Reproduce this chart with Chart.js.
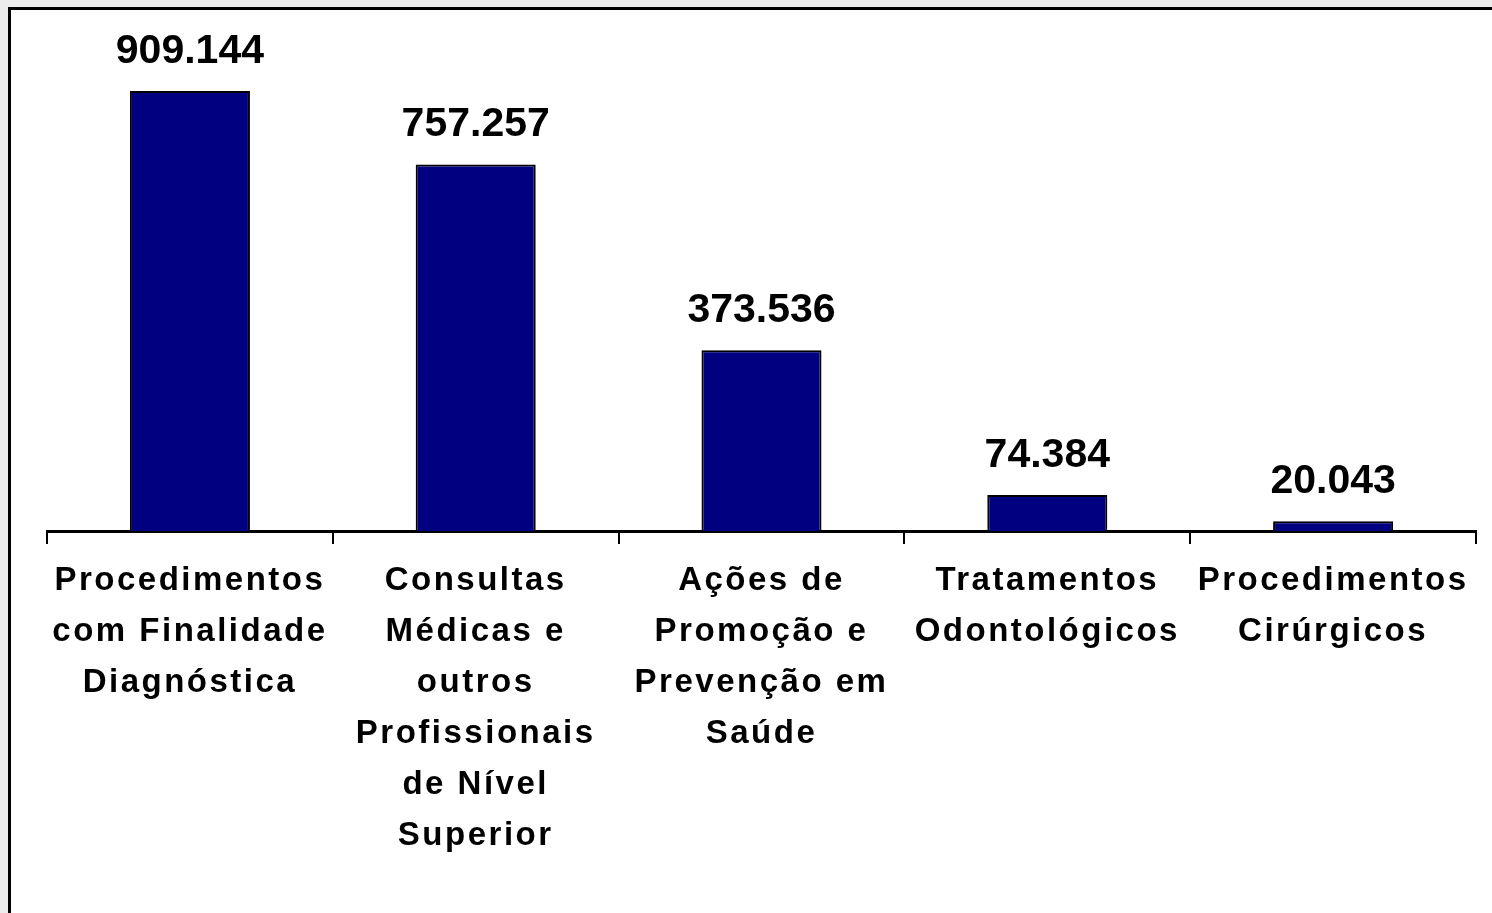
<!DOCTYPE html>
<html>
<head>
<meta charset="utf-8">
<script src="https://cdn.jsdelivr.net/npm/chart.js@4"></script>
<style>
    html, body { margin: 0; padding: 0; background: #ececec; overflow: hidden; }
    #frame {
        position: absolute; left: 8px; top: 7px; width: 1500px; height: 920px;
        background: #fff; border-left: 3px solid #000; border-top: 3px solid #000;
    }
    #wrap { position: absolute; left: 0; top: 0; width: 1492px; height: 913px; }
</style>
</head>
<body>
<div id="frame"></div>
<div id="wrap"><canvas id="procChart"></canvas></div>
<script>
// Categories (multi-line labels) and values
const categories = [
    ['Procedimentos', 'com Finalidade', 'Diagnóstica'],
    ['Consultas', 'Médicas e', 'outros', 'Profissionais', 'de Nível', 'Superior'],
    ['Ações de', 'Promoção e', 'Prevenção em', 'Saúde'],
    ['Tratamentos', 'Odontológicos'],
    ['Procedimentos', 'Cirúrgicos']
];
const values = [909144, 757257, 373536, 74384, 20043];
const valueLabels = ['909.144', '757.257', '373.536', '74.384', '20.043'];

const FONT = '"Liberation Sans", Arial, sans-serif';

// Wider letter spacing for the axis labels, like the original
const spacingPlugin = {
    id: 'spacing',
    beforeDraw(chart) {
        chart.ctx.letterSpacing = '2.5px';
    }
};

// Value labels above each bar
const valueLabelPlugin = {
    id: 'valueLabels',
    afterDatasetsDraw(chart) {
        const ctx = chart.ctx;
        const meta = chart.getDatasetMeta(0);
        ctx.save();
        ctx.letterSpacing = '0px';
        ctx.font = 'bold 41px ' + FONT;
        ctx.fillStyle = '#000';
        ctx.textAlign = 'center';
        ctx.textBaseline = 'alphabetic';
        meta.data.forEach((bar, i) => {
            ctx.fillText(valueLabels[i], bar.x, bar.y - 28);
        });
        ctx.restore();
    }
};

new Chart(document.getElementById('procChart'), {
    type: 'bar',
    data: {
        labels: categories,
        datasets: [{
            data: values,
            backgroundColor: '#000080',
            borderColor: '#000',
            borderWidth: 2,
            barPercentage: 0.42,
            categoryPercentage: 1.0
        }]
    },
    options: {
        responsive: true,
        maintainAspectRatio: false,
        animation: false,
        layout: {
            padding: { left: 47, right: 16, top: 47, bottom: 0 }
        },
        plugins: {
            legend: { display: false },
            tooltip: { enabled: false }
        },
        scales: {
            x: {
                afterFit: (scale) => { scale.height = 382; },
                border: { display: true, color: '#000', width: 3 },
                grid: {
                    display: true,
                    drawOnChartArea: false,
                    drawTicks: true,
                    tickLength: 13,
                    color: '#000',
                    lineWidth: 2
                },
                ticks: {
                    color: '#000',
                    autoSkip: false,
                    maxRotation: 0,
                    padding: 11,
                    font: { family: FONT, size: 33, weight: 'bold', lineHeight: 1.55 }
                }
            },
            y: {
                display: false,
                min: 0,
                max: 1000000
            }
        }
    },
    plugins: [spacingPlugin, valueLabelPlugin]
});
</script>
</body>
</html>
